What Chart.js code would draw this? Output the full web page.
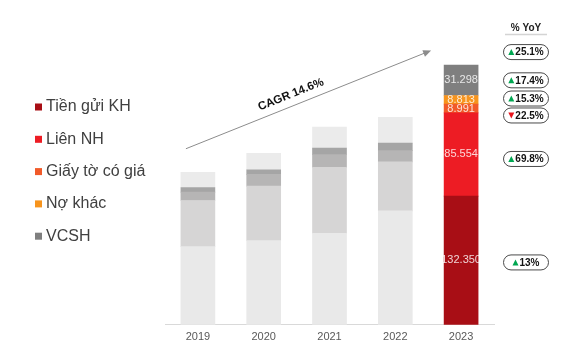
<!DOCTYPE html>
<html>
<head>
<meta charset="utf-8">
<script src="https://cdn.jsdelivr.net/npm/chart.js@4.4.0/dist/chart.umd.min.js"></script>
<style>
  html, body { margin: 0; padding: 0; background: #ffffff; }
  #wrap { width: 564px; height: 350px; position: relative; }
</style>
</head>
<body>
<div id="wrap"><canvas id="funding"></canvas></div>
<script>
const years = ["2019", "2020", "2021", "2022", "2023"];

const seriesNames = ["Tiền gửi KH", "Liên NH", "Giấy tờ có giá", "Nợ khác", "VCSH"];

const tienGuiKH = [80.4, 86.6, 94.1, 117.1, 132.35];
const lienNH = [47.4, 56.0, 67.7, 50.4, 85.554];
const giayToCoGia = [8.6, 12.0, 13.1, 11.6, 8.991];
const noKhac = [4.8, 4.8, 6.8, 7.6, 8.813];
const vcsh = [15.5, 16.8, 21.6, 26.7, 31.298];

// % YoY of 2023 per series (same order as seriesNames), and for the total
const yoyChange = [13, 69.8, -22.5, 15.3, 17.4];
const yoyTotal = 25.1;
const cagrText = "CAGR 14.6%";

const seriesData = [tienGuiKH, lienNH, giayToCoGia, noKhac, vcsh];

// 2023 colours, older years in greys
const mainColors = ["#a80e15", "#ed1c24", "#f15a29", "#f7941d", "#7f7f7f"];
const greyColors = ["#e9e9e9", "#d6d5d5", "#b6b5b5", "#a5a5a5", "#ebebeb"];

const FONT = '"Liberation Sans", Arial, sans-serif';

function barColors(i) {
  return years.map((y, j) => (j === years.length - 1 ? mainColors[i] : greyColors[i]));
}

function fmtVal(v) {
  return v.toFixed(3);
}

const extras = {
  id: "extras",
  afterDatasetsDraw(chart) {
    const ctx = chart.ctx;
    const last = years.length - 1;

    // values inside the 2023 bar
    ctx.save();
    ctx.font = "11px " + FONT;
    ctx.fillStyle = "rgba(255,255,255,0.82)";
    ctx.textAlign = "center";
    ctx.textBaseline = "middle";
    seriesData.forEach((arr, i) => {
      const bar = chart.getDatasetMeta(i).data[last];
      ctx.fillText(fmtVal(arr[last]), bar.x, (bar.y + bar.base) / 2);
    });
    ctx.restore();
  },
  afterDraw(chart) {
    const ctx = chart.ctx;
    const xs = chart.scales.x;
    const ys = chart.scales.y;
    const last = years.length - 1;

    // legend on the left
    ctx.save();
    ctx.font = "16px " + FONT;
    ctx.textBaseline = "middle";
    seriesNames.forEach((name, i) => {
      const yy = 107 + i * 32.3;
      ctx.fillStyle = mainColors[i];
      ctx.fillRect(35, yy - 3.5, 7, 7);
      ctx.fillStyle = "#404040";
      ctx.fillText(name, 46, yy);
    });
    ctx.restore();

    // CAGR arrow
    const x0 = xs.getPixelForValue(0) - 12, y0 = ys.getPixelForValue(181);
    const x1 = xs.getPixelForValue(last) - 30, y1 = ys.getPixelForValue(282);
    const ang = Math.atan2(y1 - y0, x1 - x0);
    ctx.save();
    ctx.strokeStyle = "#8c8c8c";
    ctx.fillStyle = "#8c8c8c";
    ctx.lineWidth = 1;
    ctx.beginPath();
    ctx.moveTo(x0, y0);
    ctx.lineTo(x1 - 5 * Math.cos(ang), y1 - 5 * Math.sin(ang));
    ctx.stroke();
    ctx.translate(x1, y1);
    ctx.rotate(ang);
    ctx.beginPath();
    ctx.moveTo(0, 0);
    ctx.lineTo(-8, -3.5);
    ctx.lineTo(-8, 3.5);
    ctx.closePath();
    ctx.fill();
    ctx.restore();

    ctx.save();
    const tx = x0 + (x1 - x0) * 0.445, ty = y0 + (y1 - y0) * 0.445;
    ctx.translate(tx, ty);
    ctx.rotate(ang);
    ctx.font = "bold 11.5px " + FONT;
    ctx.fillStyle = "#111111";
    ctx.textAlign = "center";
    ctx.textBaseline = "alphabetic";
    ctx.fillText(cagrText, 0, -8);
    ctx.restore();

    // % YoY column
    const cx = 526;
    ctx.save();
    ctx.font = "bold 10px " + FONT;
    ctx.fillStyle = "#222222";
    ctx.textAlign = "center";
    ctx.textBaseline = "middle";
    ctx.fillText("% YoY", cx, 28);
    ctx.strokeStyle = "#d4d4d4";
    ctx.lineWidth = 1.5;
    ctx.beginPath();
    ctx.moveTo(cx - 21, 34.5);
    ctx.lineTo(cx + 21, 34.5);
    ctx.stroke();
    ctx.restore();

    const nudge = [2, 4.5, 7, -1.3, 0];
    seriesData.forEach((arr, i) => {
      const bar = chart.getDatasetMeta(i).data[last];
      drawPill(ctx, cx, (bar.y + bar.base) / 2 + nudge[i], yoyChange[i]);
    });
    const topBar = chart.getDatasetMeta(seriesData.length - 1).data[last];
    drawPill(ctx, cx, topBar.y - 13, yoyTotal);
  }
};

function drawPill(ctx, cx, cy, val) {
  const w = 45, h = 15, r = 7.5;
  ctx.save();
  ctx.beginPath();
  ctx.roundRect(cx - w / 2, cy - h / 2, w, h, r);
  ctx.fillStyle = "#ffffff";
  ctx.fill();
  ctx.strokeStyle = "#4a4a4a";
  ctx.lineWidth = 1;
  ctx.stroke();

  const txt = Math.abs(val) + "%";
  ctx.font = 'bold 10px "Liberation Sans Narrow", ' + FONT;
  const tw = ctx.measureText(txt).width;
  const triW = 6, gap = 1;
  const start = cx - (triW + gap + tw) / 2;
  ctx.beginPath();
  if (val >= 0) {
    ctx.moveTo(start, cy + 3);
    ctx.lineTo(start + triW, cy + 3);
    ctx.lineTo(start + triW / 2, cy - 3);
    ctx.fillStyle = "#00a651";
  } else {
    ctx.moveTo(start, cy - 3);
    ctx.lineTo(start + triW, cy - 3);
    ctx.lineTo(start + triW / 2, cy + 3);
    ctx.fillStyle = "#e8141c";
  }
  ctx.closePath();
  ctx.fill();
  ctx.fillStyle = "#111111";
  ctx.textAlign = "left";
  ctx.textBaseline = "middle";
  ctx.fillText(txt, start + triW + gap, cy + 0.5);
  ctx.restore();
}

const ctx = document.getElementById("funding").getContext("2d");

new Chart(ctx, {
  type: "bar",
  data: {
    labels: years,
    datasets: seriesData.map((arr, i) => ({
      label: seriesNames[i],
      data: arr,
      backgroundColor: barColors(i),
      borderWidth: 0,
      barThickness: 34,
    })),
  },
  options: {
    responsive: true,
    maintainAspectRatio: false,
    animation: false,
    layout: {
      padding: { left: 165, right: 70, top: 33, bottom: 0 },
    },
    plugins: {
      legend: { display: false },
      tooltip: { enabled: false },
    },
    scales: {
      x: {
        stacked: true,
        grid: { display: false, drawTicks: false },
        border: { display: true, color: "#d9d9d9", width: 1 },
        ticks: {
          color: "#595959",
          padding: 6,
          font: { family: FONT, size: 11 },
        },
      },
      y: {
        stacked: true,
        display: false,
        min: 0,
        max: 300,
      },
    },
  },
  plugins: [extras],
});
</script>
</body>
</html>
